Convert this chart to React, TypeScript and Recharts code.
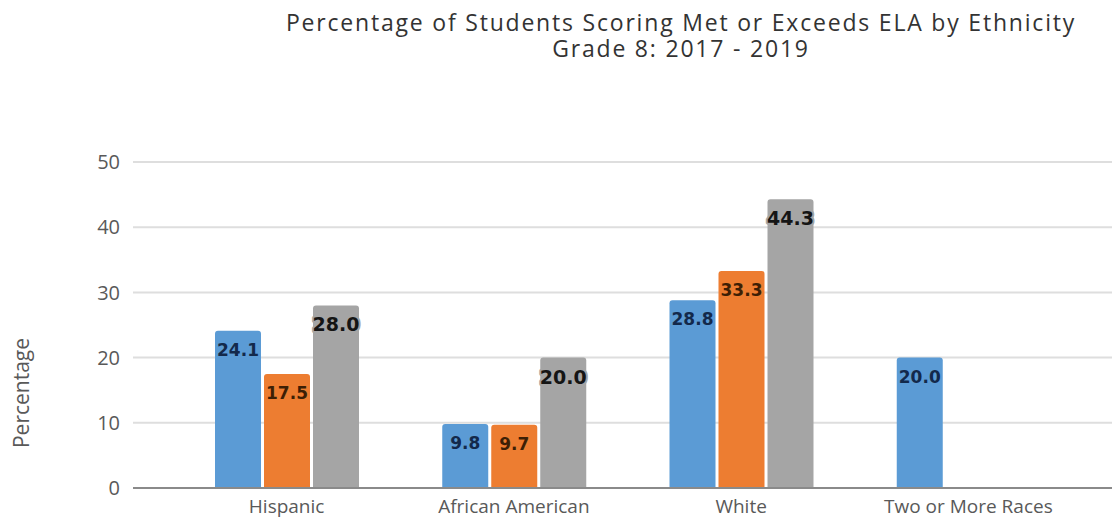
import { BarChart, Bar, XAxis, YAxis, CartesianGrid, LabelList } from 'recharts'

const categories = ['Hispanic', 'African American', 'White', 'Two or More Races']
const y2017 = [24.1, 9.8, 28.8, 20.0]
const y2018: (number | null)[] = [17.5, 9.7, 33.3, null]
const y2019: (number | null)[] = [28.0, 20.0, 44.3, null]
const yTicks = [0, 10, 20, 30, 40, 50]
const titleLines = ['Percentage of Students Scoring Met or Exceeds ELA by Ethnicity', 'Grade 8: 2017 - 2019']

const data = categories.map((name, i) => ({
  name,
  y2017: y2017[i],
  y2018: y2018[i],
  y2019: y2019[i],
}))

const FONT = '"Open Sans", "DejaVu Sans", sans-serif'
const LABEL_FONT = '"DejaVu Sans", sans-serif'

// value label drawn just inside the top of each bar
function makeLabel(color: string, size: number, halo?: string) {
  return (props: any) => {
    const { x, y, width, value } = props
    if (value == null) return null
    const cx = Number(x) + Number(width) / 2
    const cy = Number(y) + 19
    return (
      <text
        x={cx}
        y={cy}
        textAnchor="middle"
        dominantBaseline="central"
        fontFamily={LABEL_FONT}
        fontWeight="bold"
        fontSize={size}
        fill={color}
        stroke={halo}
        strokeWidth={halo ? 4 : 0}
        strokeLinejoin="round"
        paintOrder="stroke"
      >
        {Number(value).toFixed(1)}
      </text>
    )
  }
}

function YTitle(props: any) {
  const vb = props.viewBox || { x: 0, y: 0, height: 0 }
  const x = vb.x + 21
  const y = vb.y + vb.height / 2 + 68
  return (
    <text
      x={x}
      y={y}
      transform={`rotate(-90, ${x}, ${y})`}
      textAnchor="middle"
      dominantBaseline="central"
      fontFamily={FONT}
      fontSize={21}
      fill="#595959"
    >
      Percentage
    </text>
  )
}

export default function App() {
  return (
    <div style={{ position: 'absolute', left: 0, top: 0, width: 1112, height: 520, background: '#fff' }}>
      {titleLines.map((line, i) => (
        <div
          key={i}
          style={{
            position: 'absolute',
            left: 250,
            top: 11 + i * 26,
            width: 862,
            height: 22,
            textAlign: 'center',
            fontFamily: FONT,
            fontSize: 23,
            letterSpacing: 1.8,
            lineHeight: '22px',
            color: '#333',
          }}
        >
          {line}
        </div>
      ))}
      <BarChart
        width={1112}
        height={520}
        data={data}
        margin={{ top: 162, right: 0, left: 0, bottom: 2 }}
        barSize={46}
        barGap={3}
      >
        <CartesianGrid vertical={false} stroke="#dedede" strokeWidth={2} />
        <XAxis
          dataKey="name"
          height={30}
          padding={{ left: 40, right: 30 }}
          tickLine={false}
          tickSize={0}
          tickMargin={12}
          axisLine={{ stroke: '#8a8a8a', strokeWidth: 2 }}
          tick={{ fill: '#595959', fontSize: 19, fontFamily: FONT }}
          interval={0}
        />
        <YAxis
          width={133}
          domain={[0, 50]}
          ticks={yTicks}
          tickLine={false}
          tickSize={0}
          tickMargin={13}
          axisLine={false}
          tick={{ fill: '#595959', fontSize: 20, fontFamily: FONT }}
          label={<YTitle />}
        />
        <Bar dataKey="y2017" fill="#5b9bd5" radius={[3, 3, 0, 0]} isAnimationActive={false}>
          <LabelList dataKey="y2017" content={makeLabel('#13294b', 17)} />
        </Bar>
        <Bar dataKey="y2018" fill="#ed7d31" radius={[3, 3, 0, 0]} isAnimationActive={false}>
          <LabelList dataKey="y2018" content={makeLabel('#3d1f05', 17)} />
        </Bar>
        <Bar dataKey="y2019" fill="#a5a5a5" radius={[3, 3, 0, 0]} isAnimationActive={false}>
          <LabelList dataKey="y2019" content={makeLabel('#151515', 19, '#a5a5a5')} />
        </Bar>
      </BarChart>
    </div>
  )
}
